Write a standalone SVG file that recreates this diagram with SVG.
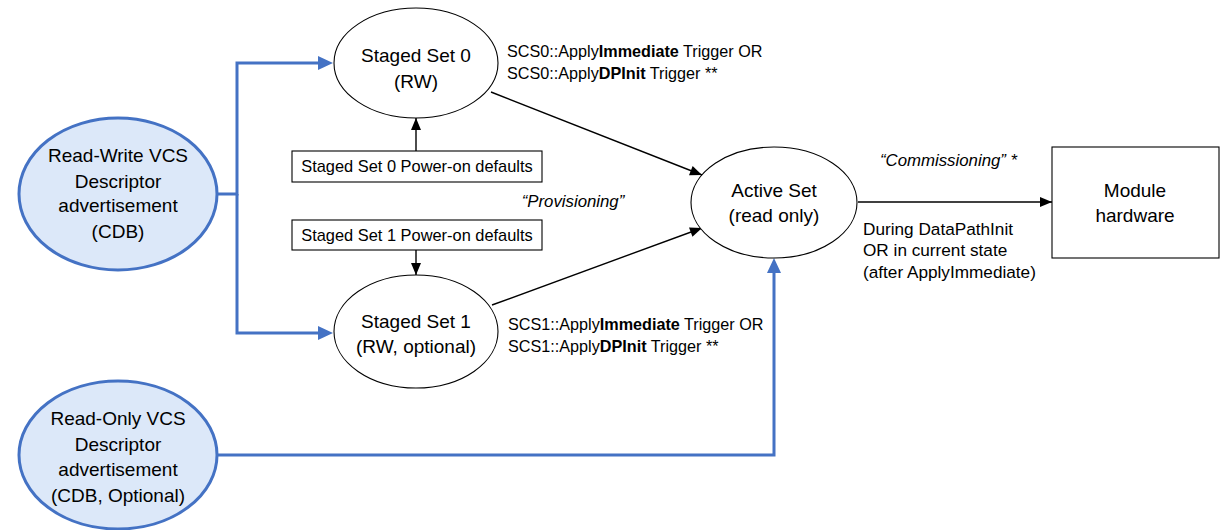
<svg xmlns="http://www.w3.org/2000/svg" width="1223" height="530" viewBox="0 0 1223 530">
  <style>
    text { font-family: "Liberation Sans", Arial, sans-serif; fill: #000; }
    .big { font-size: 19px; text-anchor: middle; }
    .small { font-size: 16.2px; }
    .note { font-size: 17.2px; }
    .box-label { font-size: 16.4px; text-anchor: middle; }
    .quote { font-size: 16.8px; font-style: italic; }
    .state { fill: #fff; stroke: #000; stroke-width: 1.1; }
    .source { fill: #DCE8F9; stroke: #4472C4; stroke-width: 3; }
    .rect { fill: #fff; stroke: #000; stroke-width: 1.1; }
    .flow { fill: none; stroke: #000; stroke-width: 1.4; }
    .feed { fill: none; stroke: #4472C4; stroke-width: 3; stroke-linejoin: miter; }
  </style>
  <defs>
    <marker id="arrowBlue" markerUnits="userSpaceOnUse" markerWidth="15" markerHeight="14" refX="0" refY="7" orient="auto" overflow="visible">
      <path d="M0,0 L15,7 L0,14 Z" fill="#4472C4"/>
    </marker>
    <marker id="arrowBlack" markerUnits="userSpaceOnUse" markerWidth="12" markerHeight="10" refX="12" refY="5" orient="auto" overflow="visible">
      <path d="M0,0 L12,5 L0,10 Z" fill="#000"/>
    </marker>
  </defs>

  <!-- connectors -->
  <g id="connectors">
    <path class="feed" d="M217,194 H237 V63 H318" marker-end="url(#arrowBlue)"/>
    <path class="feed" d="M237,194 V333 H318" marker-end="url(#arrowBlue)"/>
    <path class="feed" d="M217,455 H774 V273" marker-end="url(#arrowBlue)"/>
    <path class="flow" d="M416,151 V118" marker-end="url(#arrowBlack)"/>
    <path class="flow" d="M416,250 V275" marker-end="url(#arrowBlack)"/>
    <path class="flow" d="M491,92 L702,175" marker-end="url(#arrowBlack)"/>
    <path class="flow" d="M492,305 L702,228" marker-end="url(#arrowBlack)"/>
    <path class="flow" d="M858,202 H1052" marker-end="url(#arrowBlack)"/>
  </g>

  <!-- source: read-write descriptor -->
  <g id="rw-descriptor">
    <ellipse class="source" cx="118" cy="194" rx="99" ry="76"/>
    <text class="big" x="118" y="162">Read-Write VCS</text>
    <text class="big" x="118" y="188">Descriptor</text>
    <text class="big" x="118" y="212">advertisement</text>
    <text class="big" x="118" y="238">(CDB)</text>
  </g>

  <!-- source: read-only descriptor -->
  <g id="ro-descriptor">
    <ellipse class="source" cx="118" cy="455" rx="99" ry="74"/>
    <text class="big" x="118" y="425">Read-Only VCS</text>
    <text class="big" x="118" y="451">Descriptor</text>
    <text class="big" x="118" y="476">advertisement</text>
    <text class="big" x="118" y="502">(CDB, Optional)</text>
  </g>

  <!-- staged set 0 -->
  <g id="staged-set-0">
    <ellipse class="state" cx="416" cy="63" rx="82" ry="55"/>
    <text class="big" x="416" y="62">Staged Set 0</text>
    <text class="big" x="416" y="88">(RW)</text>
  </g>

  <!-- staged set 1 -->
  <g id="staged-set-1">
    <ellipse class="state" cx="416" cy="331.5" rx="82" ry="56.5"/>
    <text class="big" x="416" y="328">Staged Set 1</text>
    <text class="big" x="416" y="353">(RW, optional)</text>
  </g>

  <!-- power-on defaults -->
  <g id="defaults-0">
    <rect class="rect" x="292" y="151" width="250" height="31"/>
    <text class="box-label" x="417" y="172">Staged Set 0 Power-on defaults</text>
  </g>
  <g id="defaults-1">
    <rect class="rect" x="292" y="220" width="250" height="30"/>
    <text class="box-label" x="417" y="241">Staged Set 1 Power-on defaults</text>
  </g>

  <!-- active set -->
  <g id="active-set">
    <ellipse class="state" cx="774" cy="202.5" rx="83" ry="55.5"/>
    <text class="big" x="774" y="197">Active Set</text>
    <text class="big" x="774" y="222">(read only)</text>
  </g>

  <!-- module hardware -->
  <g id="module-hardware">
    <rect class="rect" x="1052" y="147" width="167" height="111"/>
    <text class="big" x="1135" y="197">Module</text>
    <text class="big" x="1135" y="222">hardware</text>
  </g>

  <!-- transition labels -->
  <g id="labels">
    <text class="small" x="507" y="57">SCS0::Apply<tspan font-weight="bold">Immediate</tspan> Trigger OR</text>
    <text class="small" x="507" y="79">SCS0::Apply<tspan font-weight="bold">DPInit</tspan> Trigger **</text>
    <text class="small" x="508" y="330">SCS1::Apply<tspan font-weight="bold">Immediate</tspan> Trigger OR</text>
    <text class="small" x="508" y="352">SCS1::Apply<tspan font-weight="bold">DPInit</tspan> Trigger **</text>
    <text class="quote" x="573" y="207" text-anchor="middle">“Provisioning”</text>
    <text class="quote" x="880" y="166">“Commissioning” *</text>
    <text class="note" x="863" y="234.5">During DataPathInit</text>
    <text class="note" x="863" y="256">OR in current state</text>
    <text class="note" x="863" y="277.5">(after ApplyImmediate)</text>
  </g>
</svg>
